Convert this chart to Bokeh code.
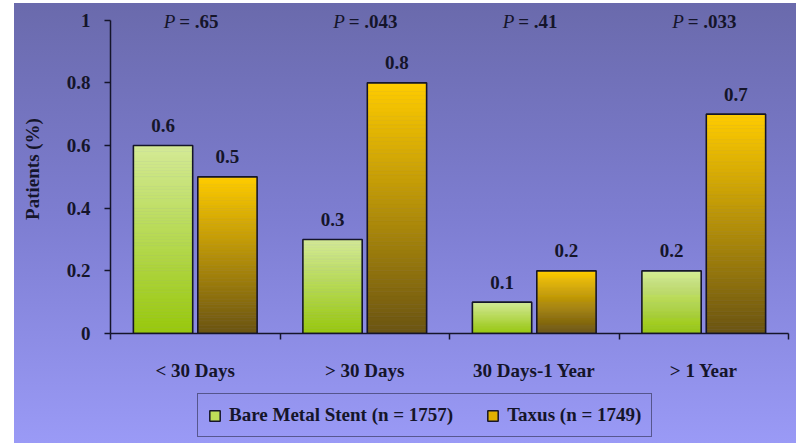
from bokeh.plotting import figure
from bokeh.layouts import column
from bokeh.models import ColumnDataSource, FixedTicker, Legend, LegendItem, Range1d
from bokeh.core.properties import value
from bokeh.embed import file_html
from bokeh.resources import INLINE

# ---- data -------------------------------------------------------------
periods = ["< 30 Days", "> 30 Days", "30 Days-1 Year", "> 1 Year"]
bare_metal = [0.6, 0.3, 0.1, 0.2]
taxus = [0.5, 0.8, 0.2, 0.7]
p_values = [".65", ".043", ".41", ".033"]
y_ticks = [0, 0.2, 0.4, 0.6, 0.8, 1.0]
y_tick_labels = ["0", "0.2", "0.4", "0.6", "0.8", "1"]
series_labels = ["Bare Metal Stent (n = 1757)", "Taxus (n = 1749)"]

# ---- styling ----------------------------------------------------------
FONT = value("Liberation Serif")
FS = "19px"
INK = "#15152a"
GREEN_TOP, GREEN_BOTTOM = "#d4ea96", "#98c80c"
GOLD_TOP, GOLD_BOTTOM = "#ffcc00", "#6a5412"
BAR_W = 0.35
OFFSET = 0.19
STRIPS = 60
LEFT, RIGHT = 110, 10
Y_TOP = 1.05          # headroom above 1 so the P values stay inside the frame


def mix(c1, c2, t):
    a = [int(c1[i:i + 2], 16) for i in (1, 3, 5)]
    b = [int(c2[i:i + 2], 16) for i in (1, 3, 5)]
    return "#%02x%02x%02x" % tuple(round(a[k] + (b[k] - a[k]) * t) for k in range(3))


def transparent(fig):
    fig.background_fill_alpha = 0
    fig.border_fill_alpha = 0
    fig.outline_line_color = None


p = figure(width=798, height=388, x_range=Range1d(0, 4), y_range=Range1d(0, Y_TOP),
           output_backend="svg", toolbar_location=None,
           min_border_left=LEFT, min_border_right=RIGHT, min_border_top=4, min_border_bottom=55)
transparent(p)
p.xgrid.visible = False
p.ygrid.visible = False

# x axis: labels at category centres, tick marks at category boundaries
xa = p.xaxis[0]
xa.ticker = FixedTicker(ticks=[i + 0.5 for i in range(len(periods))],
                        minor_ticks=list(range(len(periods) + 1)))
xa.major_label_overrides = {i + 0.5: lab for i, lab in enumerate(periods)}
xa.major_tick_line_color = None
xa.major_tick_out = 0
xa.major_tick_in = 0
xa.minor_tick_out = 6
xa.minor_tick_in = 0
xa.minor_tick_line_color = INK
xa.minor_tick_line_width = 1.5
xa.axis_line_color = INK
xa.axis_line_width = 1.5
xa.major_label_standoff = 20
xa.major_label_text_font = "Liberation Serif"
xa.major_label_text_font_style = "bold"
xa.major_label_text_font_size = FS
xa.major_label_text_color = INK

ya = p.yaxis[0]
ya.ticker = FixedTicker(ticks=y_ticks, minor_ticks=[])
ya.major_label_overrides = {t: lab for t, lab in zip(y_ticks, y_tick_labels)}
ya.bounds = (0, 1)
ya.major_tick_out = 6
ya.major_tick_in = 0
ya.major_tick_line_color = INK
ya.major_tick_line_width = 1.5
ya.axis_line_color = INK
ya.axis_line_width = 1.5
ya.major_label_standoff = 14
ya.major_label_text_font = "Liberation Serif"
ya.major_label_text_font_style = "bold"
ya.major_label_text_font_size = FS
ya.major_label_text_color = INK
ya.axis_label = "Patients (%)"
ya.axis_label_standoff = 21
ya.axis_label_text_font = "Liberation Serif"
ya.axis_label_text_font_style = "bold"
ya.axis_label_text_font_size = FS
ya.axis_label_text_color = INK

# bars: each bar is filled with thin strips to give a vertical gradient
strips = dict(left=[], right=[], bottom=[], top=[], color=[])
outlines = dict(left=[], right=[], top=[])
labels = dict(x=[], y=[], text=[])
for i in range(len(periods)):
    for vals, shift, c_top, c_bot in ((bare_metal, -OFFSET, GREEN_TOP, GREEN_BOTTOM),
                                      (taxus, OFFSET, GOLD_TOP, GOLD_BOTTOM)):
        v = vals[i]
        cx = i + 0.5 + shift
        for k in range(STRIPS):
            strips["left"].append(cx - BAR_W / 2)
            strips["right"].append(cx + BAR_W / 2)
            strips["bottom"].append(v * k / STRIPS)
            strips["top"].append(v * (k + 1) / STRIPS)
            strips["color"].append(mix(c_bot, c_top, (k + 0.5) / STRIPS))
        outlines["left"].append(cx - BAR_W / 2)
        outlines["right"].append(cx + BAR_W / 2)
        outlines["top"].append(v)
        labels["x"].append(cx)
        labels["y"].append(v)
        labels["text"].append(f"{v:.1f}")

p.quad(left="left", right="right", bottom="bottom", top="top", fill_color="color",
       line_color="color", line_width=0.6, source=ColumnDataSource(strips))
p.quad(left="left", right="right", bottom=0, top="top", fill_color=None,
       line_color=INK, line_width=1.6, source=ColumnDataSource(outlines))
p.text(x="x", y="y", text="text", source=ColumnDataSource(labels),
       text_font=FONT, text_font_style="bold", text_font_size=FS, text_color=INK,
       text_align="center", text_baseline="alphabetic", y_offset=-20)

# P values over each period
pv = ColumnDataSource(dict(x=[i + 0.5 for i in range(len(periods))],
                           y=[1.0] * len(periods),
                           text=["= " + s for s in p_values]))
p.text(x="x", y="y", text=value("P"), source=pv, text_font=FONT,
       text_font_style="italic", text_font_size=FS, text_color=INK,
       text_align="right", text_baseline="alphabetic", x_offset=-20, y_offset=1)
p.text(x="x", y="y", text="text", source=pv, text_font=FONT,
       text_font_style="bold", text_font_size=FS, text_color=INK,
       text_align="left", text_baseline="alphabetic", x_offset=-16, y_offset=1)

# legend strip underneath the chart (same side borders as the chart above)
leg = figure(width=798, height=55, x_range=Range1d(0, 1), y_range=Range1d(0, 1),
             output_backend="svg", toolbar_location=None,
             min_border_left=LEFT, min_border_right=RIGHT, min_border_top=0, min_border_bottom=0)
transparent(leg)
leg.axis.visible = False
leg.grid.visible = False
nan = float("nan")
g1 = leg.quad(left=[nan], right=[nan], bottom=[nan], top=[nan],
              fill_color="#bede58", line_color=INK, line_width=1.5)
g2 = leg.quad(left=[nan], right=[nan], bottom=[nan], top=[nan],
              fill_color="#e0b000", line_color=INK, line_width=1.5)
legend = Legend(items=[LegendItem(label=series_labels[0], renderers=[g1]),
                       LegendItem(label=series_labels[1], renderers=[g2])],
                orientation="horizontal", location=(87, 6),
                glyph_width=13, glyph_height=13, label_standoff=8, spacing=33,
                padding=10, margin=0, label_height=20,
                label_text_font="Liberation Serif", label_text_font_style="bold",
                label_text_font_size=FS, label_text_color=INK,
                border_line_color=INK, border_line_width=1.5,
                background_fill_alpha=0)
leg.add_layout(legend)

page = column(p, leg, spacing=0)
page.styles = {
    "background-color": "white",
    "background-image": "linear-gradient(to bottom, #6a6aac 0%, #7e7ed2 50%, #9a9af6 100%)",
    "background-size": "782px 440px",
    "background-position": "14px 3px",
    "background-repeat": "no-repeat",
}

open("out.html", "w").write(file_html(page, INLINE))
